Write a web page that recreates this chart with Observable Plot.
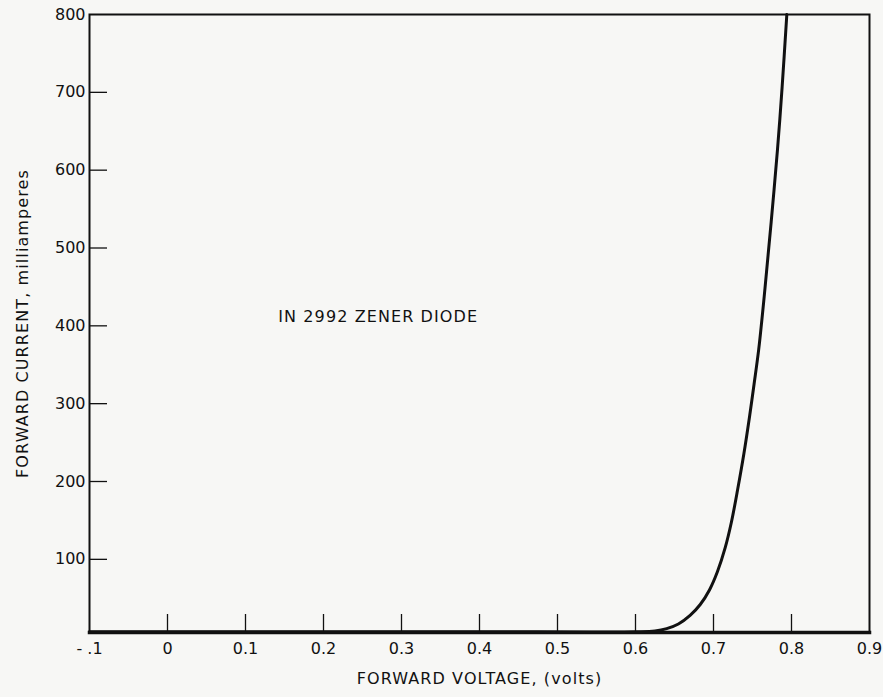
<!DOCTYPE html>
<html>
<head>
<meta charset="utf-8">
<script src="https://cdn.jsdelivr.net/npm/d3@7"></script>
<script src="https://cdn.jsdelivr.net/npm/@observablehq/plot@0.6"></script>
<style>
  html, body { margin: 0; padding: 0; background: #f7f7f5; }
  #chart svg { display: block; background: #f7f7f5; }
</style>
</head>
<body>
<div id="chart"></div>
<script>
// Forward voltage (V) and forward current (mA)
const voltage = [-0.1, 0.0, 0.2, 0.4, 0.6, 0.625, 0.64, 0.655, 0.67, 0.683, 0.695, 0.705, 0.715, 0.723, 0.731, 0.739, 0.746, 0.752, 0.758, 0.766, 0.774, 0.782, 0.788, 0.794];
const current = [7, 7, 7, 7, 7, 8, 11, 17, 28, 42, 61, 84, 115, 148, 190, 236, 282, 325, 370, 448, 534, 626, 707, 800];

const xTickValues = [-0.1, 0, 0.1, 0.2, 0.3, 0.4, 0.5, 0.6, 0.7, 0.8, 0.9];
const xTickLabels = ["- .1", "0", "0.1", "0.2", "0.3", "0.4", "0.5", "0.6", "0.7", "0.8", "0.9"];
const xTickMarks = [0, 0.1, 0.2, 0.3, 0.4, 0.5, 0.6, 0.7, 0.8];
const yTickValues = [100, 200, 300, 400, 500, 600, 700, 800];
const yTickMarks = [100, 200, 300, 400, 500, 600, 700];

const annotation = [{x: 0.142, y: 411, text: "IN 2992 ZENER DIODE"}];
const xTitle = "FORWARD VOLTAGE, (volts)";
const yTitle = "FORWARD CURRENT, milliamperes";

const data = voltage.map((v, i) => ({v, i: current[i]}));
const labelOf = new Map(xTickValues.map((v, i) => [v, xTickLabels[i]]));

const W = 883, H = 697;
const mT = 14, mB = 65, mL = 89, mR = 14;
const tickLen = 18;

const chart = Plot.plot({
  width: W,
  height: H,
  marginTop: mT,
  marginBottom: mB,
  marginLeft: mL,
  marginRight: mR,
  style: {fontFamily: "'DejaVu Sans', sans-serif", fontSize: "16px", color: "#111", background: "#f7f7f5"},
  x: {domain: [-0.1, 0.9]},
  y: {domain: [6, 800]},
  marks: [
    Plot.axisX({ticks: xTickValues, tickSize: 0, tickPadding: 10, tickFormat: d => labelOf.get(Math.round(d * 10) / 10) ?? d, label: null, fontSize: 16}),
    Plot.axisY({ticks: yTickValues, tickSize: 0, tickPadding: 4, tickFormat: d => String(d), label: null, fontSize: 16}),
    Plot.tickX(xTickMarks, {x: d => d, stroke: "#111", strokeWidth: 1.3, insetTop: (H - mT - mB) - tickLen}),
    Plot.tickY(yTickMarks, {y: d => d, stroke: "#111", strokeWidth: 1.3, insetRight: (W - mL - mR) - tickLen}),
    Plot.frame({stroke: "#111", strokeWidth: 2}),
    Plot.frame({anchor: "bottom", stroke: "#111", strokeWidth: 3.5}),
    Plot.line(data, {x: "v", y: "i", curve: "catmull-rom", stroke: "#111", strokeWidth: 3}),
    Plot.text(annotation, {x: "x", y: "y", text: "text", textAnchor: "start", fontSize: 16, fill: "#111", className: "wide"}),
    Plot.text([xTitle], {frameAnchor: "bottom", dy: 51, fontSize: 16, fill: "#111", text: d => d, className: "wide"}),
    Plot.text([yTitle], {frameAnchor: "left", textAnchor: "middle", dx: -67, rotate: -90, fontSize: 16, fill: "#111", text: d => d, className: "wide"})
  ]
});

// letter spacing for the wide lettering of the titles and annotation
chart.querySelectorAll("g.wide text, text.wide").forEach(t => t.style.letterSpacing = "1.1px");
document.getElementById("chart").appendChild(chart);
</script>
</body>
</html>
